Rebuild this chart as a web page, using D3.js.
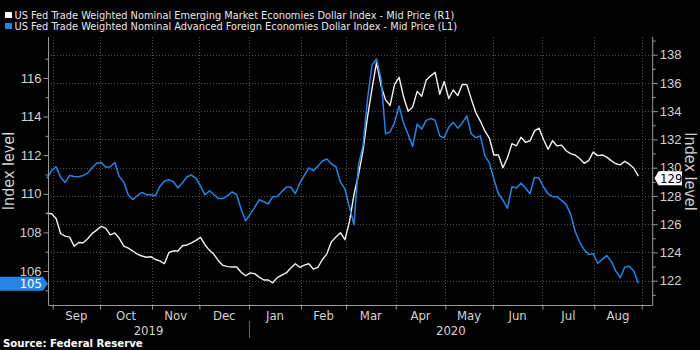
<!DOCTYPE html>
<html>
<head>
<meta charset="utf-8">
<script src="https://cdn.jsdelivr.net/npm/d3@7"></script>
<style>
  html, body { margin: 0; padding: 0; background: #000; }
  svg { display: block; font-family: "Liberation Sans Narrow", "Arial Narrow", "DejaVu Sans Condensed", sans-serif; }
</style>
</head>
<body>
<svg id="chart" width="700" height="350"></svg>
<script>
const legendLabels = [
  'US Fed Trade Weighted Nominal Emerging Market Economies Dollar Index - Mid Price (R1)',
  'US Fed Trade Weighted Nominal Advanced Foreign Economies Dollar Index - Mid Price (L1)'
];
const monthLabels = ['Sep', 'Oct', 'Nov', 'Dec', 'Jan', 'Feb', 'Mar', 'Apr', 'May', 'Jun', 'Jul', 'Aug'];
const yearLabels = ['2019', '2020'];
const leftTicks = [106, 108, 110, 112, 114, 116];
const rightTicks = [122, 124, 126, 128, 130, 132, 134, 136, 138];
const axisTitle = 'Index level';
const sourceText = 'Source: Federal Reserve';

// every second trading day, 28 Aug 2019 .. 28 Aug 2020
const firstDay = new Date(2019, 7, 28);
const lastDay = new Date(2020, 7, 28);

// Emerging market index (white, right axis)
const emValues = [
  126.77, 126.74, 126.40, 125.34, 125.16, 125.08, 124.45, 124.70, 124.69, 124.97,
  125.35, 125.58, 125.85, 125.70, 125.25, 125.38, 125.00, 124.45, 124.30, 124.10,
  123.88, 123.75, 123.66, 123.70, 123.50, 123.40, 123.20, 124.00, 124.10, 124.10,
  124.47, 124.53, 124.68, 124.85, 125.07, 124.53, 124.15, 123.85, 123.40, 123.08,
  123.00, 122.97, 122.97, 122.60, 122.35, 122.55, 122.50, 122.25, 122.05, 122.05,
  121.85, 122.22, 122.40, 122.55, 122.90, 123.20, 122.95, 123.10, 123.20, 122.82,
  122.95, 123.50, 123.90, 124.75, 125.10, 125.40, 124.90, 126.18, 128.10, 129.50,
  131.20, 133.60, 135.60, 137.45, 135.80, 134.80, 134.40, 135.90, 136.40, 135.00,
  134.00, 134.30, 135.40, 135.05, 136.20, 136.50, 136.75, 135.20, 136.10, 134.90,
  135.50, 135.10, 135.90, 135.88, 134.85, 133.90, 133.30, 132.60, 132.10, 130.90,
  130.90, 130.00, 130.70, 131.70, 131.55, 132.15, 131.80, 131.90, 132.60, 132.80,
  132.00, 131.30, 131.90, 131.54, 131.60, 131.20, 131.00, 130.90, 130.65, 130.31,
  130.50, 131.10, 130.85, 130.90, 130.75, 130.50, 130.28, 130.20, 130.45, 130.25,
  129.96, 129.40
];

// Advanced foreign economies index (blue, left axis)
const afeValues = [
  110.80, 111.20, 111.40, 110.85, 110.58, 110.95, 110.90, 110.88, 110.95, 111.07,
  111.35, 111.58, 111.62, 111.38, 111.40, 111.62, 110.90, 110.60, 109.94, 109.70,
  109.90, 110.07, 109.95, 109.95, 109.90, 110.38, 110.65, 110.73, 110.62, 110.30,
  110.57, 110.88, 110.97, 110.80, 110.40, 109.94, 110.15, 109.95, 109.75, 109.75,
  109.90, 110.10, 109.95, 109.20, 108.60, 108.95, 109.30, 109.70, 109.59, 109.47,
  109.85, 109.86, 110.11, 110.35, 110.35, 110.00, 110.55, 110.95, 111.34, 111.20,
  111.42, 111.70, 111.80, 111.55, 111.40, 110.60, 110.25, 109.30, 108.40, 111.50,
  112.50, 114.90, 116.67, 116.98, 115.95, 113.10, 113.20, 113.70, 114.55, 113.65,
  113.07, 112.45, 113.60, 113.35, 113.80, 113.90, 113.80, 113.00, 112.90, 113.45,
  113.70, 113.40, 113.67, 114.03, 113.10, 112.90, 113.00, 111.98, 111.60, 110.75,
  110.00, 109.68, 109.25, 110.37, 110.30, 110.55, 110.30, 110.00, 110.85, 110.80,
  110.35, 110.00, 109.85, 109.85, 109.65, 109.45, 108.95, 108.05, 107.50, 107.10,
  106.85, 106.90, 106.40, 106.60, 106.80, 106.50, 106.00, 105.65, 106.20, 106.25,
  106.00, 105.36
];

const WHITE = '#f2f2f2';
const BLUE = '#2683e2';
const AXIS_TXT = '#d2d2d2';
const FRAME = '#9a9a9a';
const GRID = '#4d4d4d';

const svg = d3.select('#chart');
const plot = { left: 48, right: 652.7, top: 37, bottom: 305 };

// trading-day axis (weekends removed)
const weekdays = d3.timeDay.range(new Date(2019, 7, 1), new Date(2020, 8, 30))
  .filter(d => d.getDay() % 6 !== 0);
const bd = d => weekdays.findIndex(w => +w >= +d);

const monthStarts = d3.timeMonth.range(new Date(2019, 8, 1), new Date(2020, 8, 2));
const boundaries = monthStarts.map(m => bd(m) - 0.5);

const x = d3.scaleLinear()
  .domain([boundaries[0], boundaries[boundaries.length - 1]])
  .range([52.7, 641.7]);
const yL = d3.scaleLinear().domain([104.24, 118.12]).range([plot.bottom, plot.top]);
const yR = d3.scaleLinear().domain([120.28, 139.25]).range([plot.bottom, plot.top]);

const sampleDays = weekdays
  .filter(d => d >= firstDay && d <= lastDay)
  .filter((d, i) => i % 2 === 0);
const emData = sampleDays.map((d, i) => ({ t: bd(d), v: emValues[i] }));
const afeData = sampleDays.map((d, i) => ({ t: bd(d), v: afeValues[i] }));

// grid
const grid = svg.append('g')
  .attr('stroke', GRID)
  .attr('stroke-width', 1)
  .attr('stroke-dasharray', '1 2');
grid.selectAll('line.h').data(rightTicks).join('line')
  .attr('class', 'h')
  .attr('x1', plot.left).attr('x2', plot.right)
  .attr('y1', d => Math.round(yR(d)) + 0.5).attr('y2', d => Math.round(yR(d)) + 0.5);
grid.selectAll('line.v').data(boundaries).join('line')
  .attr('class', 'v')
  .attr('x1', d => Math.round(x(d)) + 0.5).attr('x2', d => Math.round(x(d)) + 0.5)
  .attr('y1', plot.top).attr('y2', plot.bottom);

// series
const lineL = d3.line().x(d => x(d.t)).y(d => yL(d.v));
const lineR = d3.line().x(d => x(d.t)).y(d => yR(d.v));
svg.append('path').datum(emData)
  .attr('fill', 'none').attr('stroke', WHITE).attr('stroke-width', 1.4)
  .attr('stroke-linejoin', 'round').attr('d', lineR);
svg.append('path').datum(afeData)
  .attr('fill', 'none').attr('stroke', BLUE).attr('stroke-width', 1.5)
  .attr('stroke-linejoin', 'round').attr('d', lineL);

// frame
const frame = svg.append('g').attr('stroke', FRAME).attr('stroke-width', 1).attr('fill', 'none');
frame.append('path')
  .attr('d', `M${plot.left + 0.5},${plot.top}V${plot.bottom + 0.5}H${plot.right}V${plot.top}`);

function styleAxis(g) {
  g.select('.domain').remove();
  g.selectAll('line').attr('stroke', FRAME);
  g.selectAll('text').attr('fill', AXIS_TXT).attr('font-size', 13);
}

const oddL = d3.range(105, 118, 2);
const oddR = d3.range(121, 140, 2);

svg.append('g').attr('transform', `translate(${plot.left + 0.5},0)`)
  .call(d3.axisLeft(yL).tickValues(leftTicks).tickSize(5).tickPadding(2))
  .call(styleAxis);
svg.append('g').attr('transform', `translate(${plot.left + 0.5},0)`)
  .call(d3.axisLeft(yL).tickValues(oddL).tickSize(3).tickFormat(''))
  .call(styleAxis);
svg.append('g').attr('transform', `translate(${plot.right},0)`)
  .call(d3.axisRight(yR).tickValues(rightTicks).tickSize(5).tickPadding(2))
  .call(styleAxis);
svg.append('g').attr('transform', `translate(${plot.right},0)`)
  .call(d3.axisRight(yR).tickValues(oddR).tickSize(3).tickFormat(''))
  .call(styleAxis);

// x axis: month boundaries and labels
svg.append('g').attr('transform', `translate(0,${plot.bottom + 0.5})`)
  .call(d3.axisBottom(x).tickValues(boundaries).tickSize(4).tickFormat(''))
  .call(styleAxis);

svg.append('g').selectAll('text').data(monthLabels).join('text')
  .attr('x', (d, i) => (x(boundaries[i]) + x(boundaries[i + 1])) / 2)
  .attr('y', 319.5)
  .attr('text-anchor', 'middle')
  .attr('fill', AXIS_TXT)
  .attr('font-size', 13)
  .text(d => d);

const yearSplit = x(boundaries[4]);
const yearSpans = [[plot.left, yearSplit], [yearSplit, plot.right]];
svg.append('g').selectAll('text').data(yearLabels).join('text')
  .attr('x', (d, i) => (yearSpans[i][0] + yearSpans[i][1]) / 2)
  .attr('y', 334.5)
  .attr('text-anchor', 'middle')
  .attr('fill', AXIS_TXT)
  .attr('font-size', 13)
  .text(d => d);
svg.append('line')
  .attr('x1', Math.round(yearSplit) + 0.5).attr('x2', Math.round(yearSplit) + 0.5)
  .attr('y1', 321).attr('y2', 338)
  .attr('stroke', '#666');

// axis titles
svg.append('text')
  .attr('transform', 'translate(8.5,171) rotate(-90)')
  .attr('text-anchor', 'middle').attr('dominant-baseline', 'central')
  .attr('fill', AXIS_TXT).attr('font-size', 16)
  .text(axisTitle);
svg.append('text')
  .attr('transform', 'translate(690.5,171.5) rotate(90)')
  .attr('text-anchor', 'middle').attr('dominant-baseline', 'central')
  .attr('fill', AXIS_TXT).attr('font-size', 16)
  .text(axisTitle);

// last value labels
const lastAfe = afeValues[afeValues.length - 1];
const lastEm = emValues[emValues.length - 1];
const cyL = yL(lastAfe) + 0.5;
svg.append('path')
  .attr('d', `M0,${cyL - 7}H43L48,${cyL}L43,${cyL + 7}H0Z`)
  .attr('fill', BLUE);
svg.append('text')
  .attr('x', 42).attr('y', cyL).attr('dominant-baseline', 'central')
  .attr('text-anchor', 'end').attr('fill', '#fff').attr('font-size', 13)
  .text(d3.format('.0f')(lastAfe));
const cyR = yR(lastEm) + 2;
svg.append('path')
  .attr('d', `M654.5,${cyR}L658.5,${cyR - 7}H682V${cyR + 7}H658.5Z`)
  .attr('fill', '#fff');
svg.append('text')
  .attr('x', 660).attr('y', cyR).attr('dominant-baseline', 'central')
  .attr('fill', '#000').attr('font-size', 13)
  .text(d3.format('.0f')(lastEm));

// legend
const legend = svg.append('g');
[WHITE, BLUE].forEach((c, i) => {
  legend.append('rect')
    .attr('x', 5).attr('y', 12 + i * 11).attr('width', 7).attr('height', 6)
    .attr('fill', c === WHITE ? '#fff' : BLUE);
  legend.append('text')
    .attr('x', 14.5).attr('y', 18.5 + i * 11)
    .attr('fill', '#e8e8e8').attr('font-size', 10.9)
    .text(legendLabels[i]);
});

// source
svg.append('text')
  .attr('x', 3).attr('y', 347)
  .attr('fill', '#fff').attr('font-size', 11.3).attr('font-weight', 'bold')
  .text(sourceText);
</script>
</body>
</html>
